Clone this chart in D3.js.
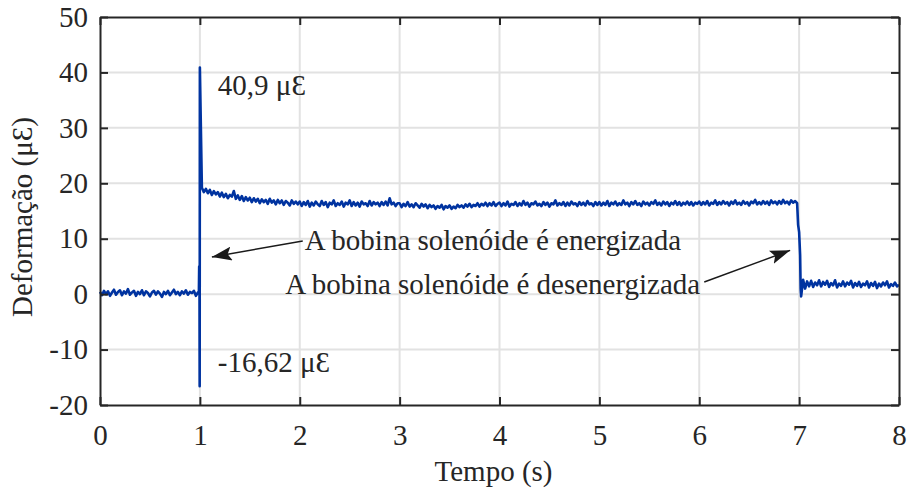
<!doctype html>
<html lang="pt">
  <head>
    <meta charset="utf-8">
    <title>Deformação x Tempo</title>
    <style>
      body { margin: 0; background: #fff; }
      svg text { font-family: "Liberation Serif", "Times New Roman", serif; fill: #262626; }
    </style>
  </head>
  <body>
    <script src="https://cdn.jsdelivr.net/npm/d3@7"></script>
    <script>

// sampled every 0.02 s, one array per second of record
var dt = 0.02;
var sec0 = [0.4,-0.2,0.6,0.0,0.5,-0.3,0.3,0.8,-0.1,0.4, 0.7,-0.2,0.5,0.1,0.9,-0.1,0.3,0.6,-0.3,0.4,
            0.0,0.7,-0.2,0.5,0.2,-0.4,0.3,0.6,-0.1,0.5, 0.1,-0.5,0.4,0.0,0.6,-0.2,0.3,0.8,0.0,0.4,
            -0.2,0.5,0.1,0.7,-0.1,0.4,0.2,0.6,-0.3,0.3];
var sec1 = [40.9,19.2,18.4,19.0,18.2,18.8,17.9,18.6,18.0,18.4, 17.6,18.3,17.5,18.1,17.3,17.9,17.6,18.6,17.2,17.8,
            17.0,17.7,16.8,17.5,16.9,17.4,16.6,17.3,16.7,17.2, 16.4,17.1,16.6,17.0,16.3,17.2,16.5,16.9,16.2,17.0,
            16.4,16.9,16.1,16.8,16.5,16.0,16.9,16.3,16.7,16.2];
var sec2 = [16.7,15.9,16.6,16.1,16.8,15.8,16.5,16.0,16.7,16.2, 15.9,16.8,16.1,16.6,15.7,16.5,16.2,16.9,15.9,16.4,
            16.1,16.7,15.8,16.5,16.2,16.9,15.9,16.6,16.0,16.5, 15.8,16.7,16.2,16.4,15.9,16.8,16.0,16.6,16.2,16.5,
            15.9,16.6,16.1,16.7,16.0,17.3,16.2,16.5,15.9,16.4];
var sec3 = [16.4,15.7,16.3,15.9,16.6,15.8,16.2,15.7,16.4,16.0, 15.6,16.3,15.8,16.2,15.5,16.1,15.7,16.0,15.4,15.9,
            15.6,16.1,15.3,15.9,15.6,16.0,15.4,15.8,15.5,16.1, 15.7,16.0,15.6,16.2,15.8,16.3,15.7,16.1,15.9,16.4,
            15.8,16.3,16.0,16.5,15.9,16.4,16.0,16.6,15.9,16.3];
var sec4 = [16.5,15.9,16.4,16.0,16.7,15.8,16.3,16.1,16.6,15.9, 16.4,16.0,16.8,16.1,16.5,15.8,16.4,16.2,16.7,16.0,
            16.3,15.9,16.6,16.1,16.5,15.8,16.4,16.2,16.9,16.0, 16.4,16.1,16.6,15.9,16.5,16.0,16.7,16.2,16.4,15.9,
            16.6,16.1,16.5,16.0,16.8,16.2,16.4,15.9,16.6,16.1];
var sec5 = [16.6,16.0,16.5,16.1,16.8,15.9,16.5,16.2,16.7,16.0, 16.4,16.1,16.9,16.2,16.5,15.9,16.6,16.2,16.8,16.1,
            16.4,15.9,16.7,16.2,16.5,16.0,16.6,16.3,16.9,16.1, 16.5,16.0,16.7,16.2,16.6,15.9,16.5,16.2,16.8,16.1,
            16.6,16.0,16.5,16.2,16.7,16.1,16.6,16.0,16.5,16.3];
var sec6 = [16.7,16.1,16.6,16.2,16.8,16.0,16.5,16.3,16.9,16.1, 16.6,16.2,16.8,16.3,16.6,16.0,16.7,16.3,16.9,16.2,
            16.5,16.1,16.8,16.3,16.6,16.0,16.7,16.4,17.0,16.2, 16.6,16.2,16.8,16.3,16.7,16.1,16.9,16.4,16.7,16.2,
            16.8,16.3,17.0,16.4,16.7,16.2,16.9,16.5,16.8,16.4];
var sec7 = [11.2,-0.4,2.6,1.0,2.3,1.4,2.4,1.3,2.1,1.6, 2.5,1.4,2.2,1.7,2.4,1.3,2.0,1.6,2.5,1.2,
            1.9,1.5,2.3,1.4,2.1,1.7,2.4,1.2,2.0,1.5, 2.2,1.3,1.9,1.6,2.3,1.2,2.0,1.5,2.2,1.1,
            1.9,1.4,2.1,1.6,2.3,1.2,1.8,1.5,2.1,1.4];
// fast transients between samples [t, value]
var transients = [[0.99, 0.2], [0.993, 5.0], [0.996, 3.5], [0.998, -16.62],
                  [6.99, 12.5], [7.01, 7.0], [7.015, 1.0], [8.0, 1.7]];

var xTicks = [0, 1, 2, 3, 4, 5, 6, 7, 8];
var yTicks = [-20, -10, 0, 10, 20, 30, 40, 50];

var peakLabel = "40,9 μƐ";
var minLabel  = "-16,62 μƐ";
var onLabel   = "A bobina solenóide é energizada";
var offLabel  = "A bobina solenóide é desenergizada";

var W = 908, H = 490;
var margin = {top: 17, right: 9, bottom: 85, left: 100},
    width  = W - margin.left - margin.right,
    height = H - margin.top - margin.bottom;
var fs = "29px";

var data = [];
[sec0, sec1, sec2, sec3, sec4, sec5, sec6, sec7].forEach(function(arr, s){
  arr.forEach(function(v, i){ data.push([s + i * dt, v]); });
});
transients.forEach(function(d){ data.push(d); });
data.sort(function(a, b){ return a[0] - b[0]; });

var svg = d3.select("body").append("svg")
    .attr("width", W).attr("height", H);

var defs = svg.append("defs");
defs.append("marker")
    .attr("id", "head")
    .attr("viewBox", "0 0 20 14")
    .attr("refX", 20).attr("refY", 7)
    .attr("markerWidth", 20).attr("markerHeight", 14)
    .attr("markerUnits", "userSpaceOnUse")
    .attr("orient", "auto")
  .append("path")
    .attr("d", "M0,0 L20,7 L0,14 L4,7 Z")
    .attr("fill", "#1a1a1a");

var chart = svg.append("g")
    .attr("transform", "translate(" + margin.left + "," + margin.top + ")");

var x = d3.scaleLinear().domain([0, 8]).range([0, width]);
var y = d3.scaleLinear().domain([-20, 50]).range([height, 0]);

// grid
chart.append("g").selectAll("line").data(xTicks.slice(1, -1)).enter().append("line")
    .attr("x1", x).attr("x2", x).attr("y1", 0).attr("y2", height)
    .attr("stroke", "#e2e2e2").attr("stroke-width", 2);
chart.append("g").selectAll("line").data(yTicks.slice(1, -1)).enter().append("line")
    .attr("y1", y).attr("y2", y).attr("x1", 0).attr("x2", width)
    .attr("stroke", "#e2e2e2").attr("stroke-width", 2);

// signal
chart.append("path")
    .datum(data)
    .attr("fill", "none")
    .attr("stroke", "#0033a0")
    .attr("stroke-width", 2.6)
    .attr("stroke-linejoin", "round")
    .attr("d", d3.line().x(function(d){ return x(d[0]); }).y(function(d){ return y(d[1]); }));

// axes, ticks point inward on all four sides (box on)
function styleAxis(g){
  g.attr("font-family", null).attr("font-size", null);
  g.select(".domain").attr("stroke", "#262626").attr("stroke-width", 2);
  g.selectAll(".tick line").attr("stroke", "#262626").attr("stroke-width", 2);
  g.selectAll("text")
    .style("font-family", "'Liberation Serif', 'Times New Roman', serif")
    .style("font-size", fs).attr("fill", "#262626");
}
var plain = function(d){ return String(d); };   // keep "-20" with a hyphen
chart.append("g")
    .attr("transform", "translate(0," + height + ")")
    .call(d3.axisBottom(x).tickValues(xTicks).tickFormat(plain).tickSizeInner(-8).tickSizeOuter(0))
    .call(styleAxis)
    .call(function(g){ g.selectAll("text").attr("y", 40).attr("dy", 0); });
chart.append("g")
    .call(d3.axisLeft(y).tickValues(yTicks).tickFormat(plain).tickSizeInner(-8).tickSizeOuter(0).tickPadding(12))
    .call(styleAxis);
chart.append("g")
    .call(d3.axisTop(x).tickValues(xTicks).tickSizeInner(-8).tickSizeOuter(0).tickFormat(""))
    .call(styleAxis);
chart.append("g")
    .attr("transform", "translate(" + width + ",0)")
    .call(d3.axisRight(y).tickValues(yTicks).tickSizeInner(-8).tickSizeOuter(0).tickFormat(""))
    .call(styleAxis);

// axis titles
svg.append("text")
    .attr("x", margin.left + width / 2 - 6).attr("y", 481)
    .attr("text-anchor", "middle").style("font-size", fs)
    .text("Tempo (s)");
svg.append("text")
    .attr("transform", "translate(32,217) rotate(-90)")
    .attr("text-anchor", "middle").style("font-size", fs)
    .text("Deformação (μƐ)");

// annotations
chart.append("text").attr("x", x(1.18)).attr("y", y(36)).style("font-size", fs).text(peakLabel);
chart.append("text").attr("x", x(1.18)).attr("y", y(-14.0)).style("font-size", fs).text(minLabel);

chart.append("text").attr("x", x(2.05)).attr("y", y(8.0)).style("font-size", fs).text(onLabel);
chart.append("line")
    .attr("x1", x(2.03)).attr("y1", y(9.6)).attr("x2", x(1.12)).attr("y2", y(6.7))
    .attr("stroke", "#1a1a1a").attr("stroke-width", 1.5).attr("marker-end", "url(#head)");

chart.append("text").attr("x", x(6.01)).attr("y", y(0.1)).attr("text-anchor", "end")
    .style("font-size", fs).text(offLabel);
chart.append("line")
    .attr("x1", x(6.05)).attr("y1", y(2.2)).attr("x2", x(6.91)).attr("y2", y(7.9))
    .attr("stroke", "#1a1a1a").attr("stroke-width", 1.5).attr("marker-end", "url(#head)");

    </script>
  </body>
</html>
